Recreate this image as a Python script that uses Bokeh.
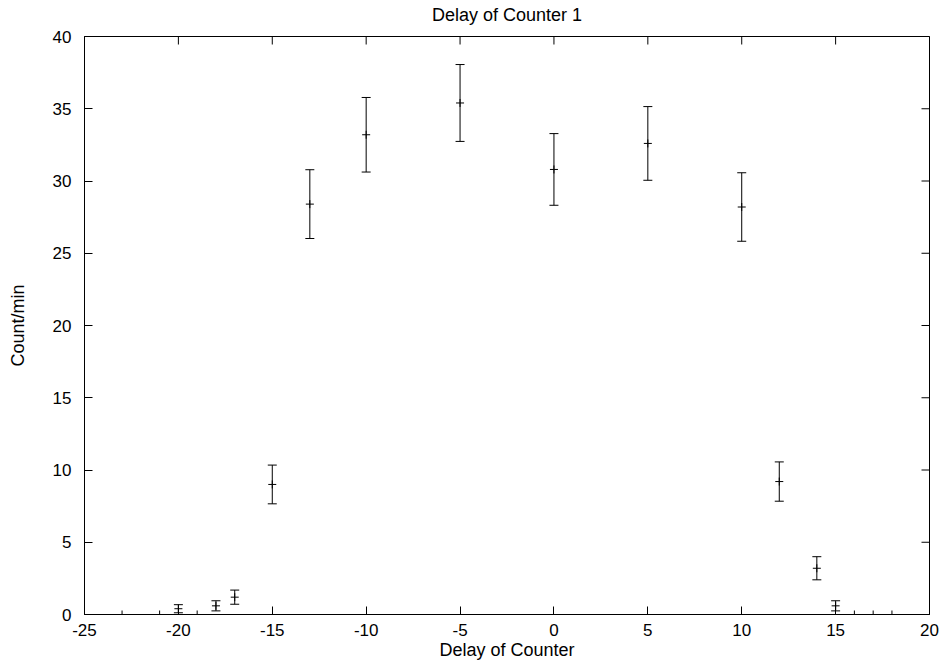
import math
from bokeh.plotting import figure
from bokeh.models import Range1d, LinearAxis, FixedTicker, ColumnDataSource, Whisker, TeeHead
from bokeh.embed import file_html
from bokeh.resources import INLINE

# Data
delay = [-23, -21, -20, -19, -18, -17, -15, -13, -10, -5, 0, 5, 10, 12, 14, 15, 16, 17, 18]
count = [0, 0, 0.4, 0, 0.6, 1.2, 9.0, 28.4, 33.2, 35.4, 30.8, 32.6, 28.2, 9.2, 3.2, 0.6, 0, 0, 0]
error = [0, 0, 0.28, 0, 0.35, 0.49, 1.34, 2.38, 2.58, 2.66, 2.48, 2.55, 2.37, 1.36, 0.8, 0.35, 0, 0, 0]

x_ticks = [-25, -20, -15, -10, -5, 0, 5, 10, 15, 20]
x_tick_labels = ["-25", "-20", "-15", "-10", "-5", "0", "5", "10", "15", "20"]
y_ticks = [0, 5, 10, 15, 20, 25, 30, 35, 40]
y_tick_labels = ["0", "5", "10", "15", "20", "25", "30", "35", "40"]
x_min, x_max = -25, 20
y_min, y_max = 0, 40
title_text = "Delay of Counter 1"

FONT = "Liberation Sans"

p = figure(width=940, height=662, output_backend="svg", toolbar_location=None,
           x_range=Range1d(x_min, x_max), y_range=Range1d(y_min, y_max),
           x_axis_location=None, y_axis_location=None,
           min_border_left=84, min_border_right=11, min_border_top=36, min_border_bottom=48)
p.title = None
p.grid.visible = False
p.outline_line_color = "black"
p.outline_line_width = 1
p.background_fill_color = "white"
p.border_fill_color = "white"


def style_axis(ax, ticks, labels):
    ax.ticker = FixedTicker(ticks=ticks)
    ax.major_tick_in = 8
    ax.major_tick_out = 0
    ax.minor_tick_line_color = None
    ax.axis_line_color = "black"
    ax.major_tick_line_color = "black"
    ax.major_label_overrides = {t: l for t, l in zip(ticks, labels)}
    ax.major_label_text_font = FONT
    ax.major_label_text_font_size = "17px"
    ax.major_label_text_color = "black"
    ax.axis_label_text_font = FONT
    ax.axis_label_text_font_size = "18px"
    ax.axis_label_text_font_style = "normal"
    ax.axis_label_text_color = "black"


xb = LinearAxis(axis_label="Delay of Counter")
style_axis(xb, x_ticks, x_tick_labels)
xb.major_label_standoff = 9
xb.axis_label_standoff = 1
p.add_layout(xb, "below")

yl = LinearAxis(axis_label="Count/min")
style_axis(yl, y_ticks, y_tick_labels)
yl.major_label_standoff = 13
yl.axis_label_standoff = 22
p.add_layout(yl, "left")

# Chart title, drawn as the label of a tick-less top axis
xt = LinearAxis(axis_label=title_text)
style_axis(xt, [], [])
xt.axis_line_color = None
xt.major_tick_line_color = None
xt.major_label_standoff = 0
xt.axis_label_text_line_height = 0.6
xt.axis_label_standoff = 12
p.add_layout(xt, "above")

# Mirrored inward ticks on top and right edges (half of each dash is clipped by the frame)
p.scatter(x=x_ticks, y=[y_max] * len(x_ticks), marker="dash", angle=math.pi / 2,
          size=16, line_color="black", line_width=1)
p.scatter(x=[x_max] * len(y_ticks), y=y_ticks, marker="dash",
          size=16, line_color="black", line_width=1)

# Error bars (only where an error is present)
ex = [x for x, e in zip(delay, error) if e > 0]
ey = [y for y, e in zip(count, error) if e > 0]
ee = [e for e in error if e > 0]
err_src = ColumnDataSource(dict(x=ex,
                                lower=[y - e for y, e in zip(ey, ee)],
                                upper=[y + e for y, e in zip(ey, ee)]))
w = Whisker(source=err_src, base="x", lower="lower", upper="upper", dimension="height",
            line_color="black", line_width=1,
            upper_head=TeeHead(size=9, line_color="black", line_width=1),
            lower_head=TeeHead(size=9, line_color="black", line_width=1))
p.add_layout(w)

src = ColumnDataSource(dict(x=delay, y=count))
p.scatter("x", "y", source=src, marker="cross", size=8, line_color="black", line_width=1)

open("out.html", "w").write(file_html(p, INLINE))
